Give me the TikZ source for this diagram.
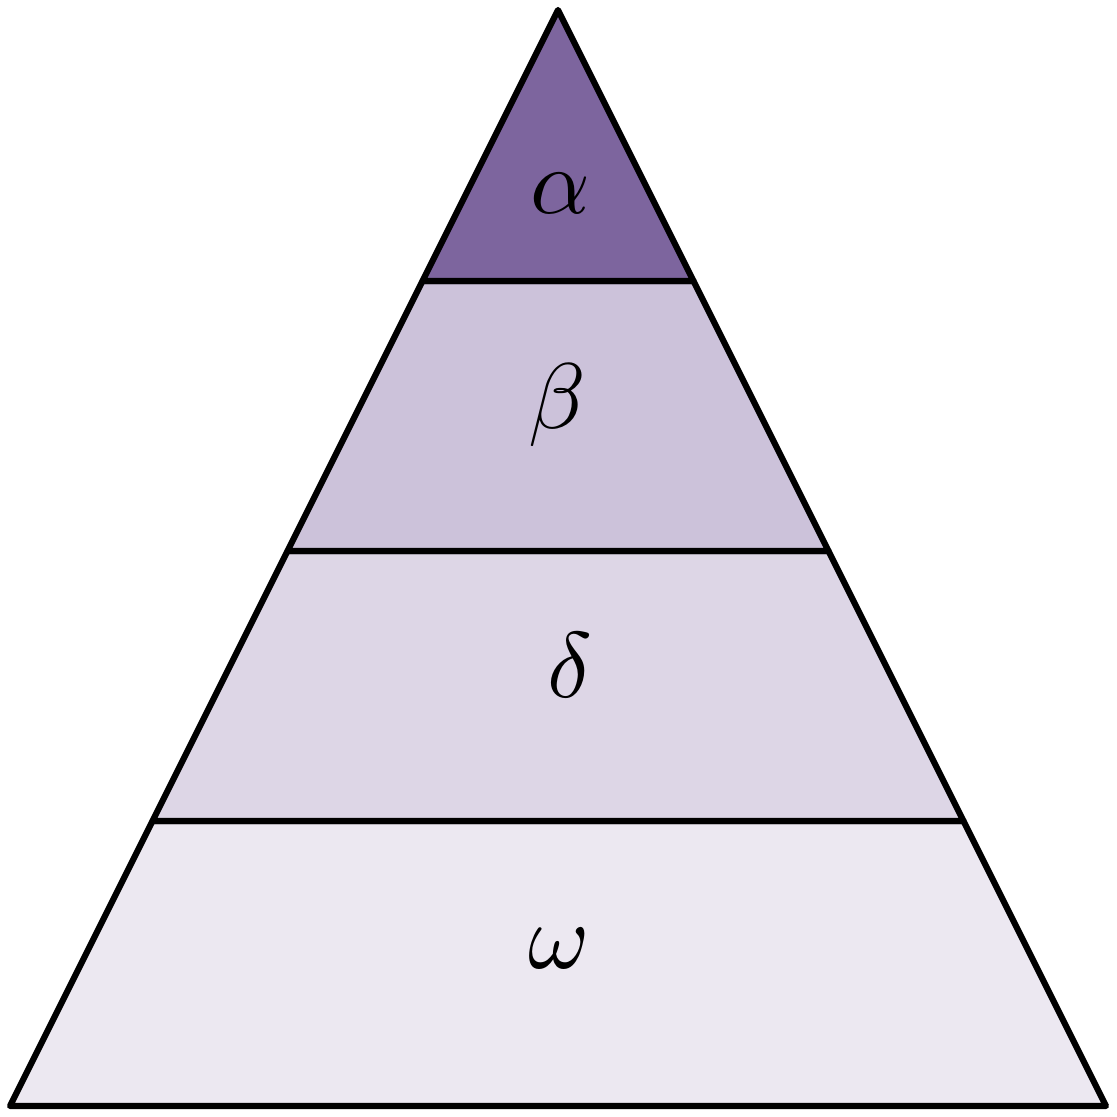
\documentclass[tikz,border=0pt]{standalone}
\usepackage{tikz}
\definecolor{tierA}{RGB}{125,101,158}
\definecolor{tierB}{RGB}{204,194,218}
\definecolor{tierC}{RGB}{221,214,230}
\definecolor{tierD}{RGB}{236,232,241}
\tikzset{
  tier/.style={draw=black, line width=1.75pt, line join=round},
  tierlabel/.style={inner sep=0pt, scale=2.65, transform shape},
}
\begin{document}
\begin{tikzpicture}
\useasboundingbox (0,0) rectangle (11.17,11.17);
\coordinate (apex) at (5.580,11.070);
\coordinate (l1) at (4.225,8.360);
\coordinate (r1) at (6.935,8.360);
\coordinate (l2) at (2.875,5.660);
\coordinate (r2) at (8.285,5.660);
\coordinate (l3) at (1.525,2.960);
\coordinate (r3) at (9.635,2.960);
\coordinate (l4) at (0.100,0.110);
\coordinate (r4) at (11.060,0.110);
\draw[tier, fill=tierD] (l3) -- (r3) -- (r4) -- (l4) -- cycle;
\draw[tier, fill=tierC] (l2) -- (r2) -- (r3) -- (l3) -- cycle;
\draw[tier, fill=tierB] (l1) -- (r1) -- (r2) -- (l2) -- cycle;
\draw[tier, fill=tierA] (apex) -- (r1) -- (l1) -- cycle;
\node[tierlabel] (alpha) at (5.600,9.240) {$\alpha$};
\node[tierlabel] (beta) at (5.570,7.120) {$\beta$};
\node[tierlabel] (delta) at (5.700,4.520) {$\delta$};
\node[tierlabel] (omega) at (5.590,1.690) {$\omega$};
\end{tikzpicture}
\end{document}
